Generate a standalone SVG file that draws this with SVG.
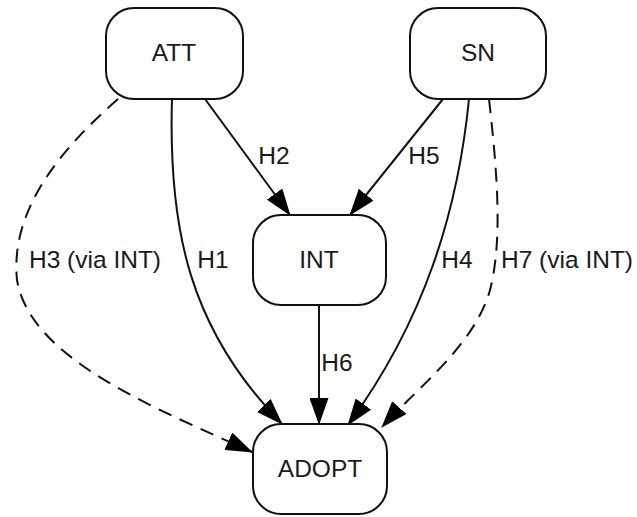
<svg xmlns="http://www.w3.org/2000/svg" width="637" height="517" viewBox="0 0 637 517">
<style>
.node rect{fill:#fff;stroke:#111;stroke-width:2}
.node text,.lbl{font-family:"Liberation Sans",Arial,sans-serif;font-size:24.5px;fill:#1a1a1a;text-anchor:middle}
.edge{fill:none;stroke:#111;stroke-width:2;marker-end:url(#arr)}
.dash{stroke-dasharray:14,9}
</style>
<defs>
<marker id="arr" markerUnits="userSpaceOnUse" markerWidth="27" markerHeight="19" refX="26" refY="9.5" orient="auto" viewBox="0 0 27 19">
<path d="M0,0 L27,9.5 L0,19 z" fill="#000"/>
</marker>
</defs>
<rect width="637" height="517" fill="#fff"/>
<g id="connectors">
<path class="edge" d="M172,99 C168,230 190,330 282,424"/>
<path class="edge" d="M205,99 L290,215"/>
<path class="edge dash" d="M118,99 C60,150 10,210 17,280 C30,360 160,410 252,452"/>
<path class="edge" d="M469,99 C458,210 425,320 348,425"/>
<path class="edge" d="M443,99 L350,215"/>
<path class="edge" d="M319,305 L319,424"/>
<path class="edge dash" d="M489,99 C497,170 503,240 490,290 C475,345 415,390 382,427"/>
<text class="lbl" x="213" y="268">H1</text>
<text class="lbl" x="274" y="164">H2</text>
<text class="lbl" x="95" y="268">H3 (via INT)</text>
<text class="lbl" x="457" y="268">H4</text>
<text class="lbl" x="424" y="164">H5</text>
<text class="lbl" x="337" y="371">H6</text>
<text class="lbl" x="567" y="268">H7 (via INT)</text>
</g>
<g id="ATT" class="node"><rect x="106" y="8" width="137" height="91" rx="28"/><text x="174" y="61">ATT</text></g>
<g id="SN" class="node"><rect x="410" y="8" width="136" height="91" rx="28"/><text x="478" y="61">SN</text></g>
<g id="INT" class="node"><rect x="253" y="215" width="133" height="90" rx="28"/><text x="319" y="268">INT</text></g>
<g id="ADOPT" class="node"><rect x="253" y="424" width="134" height="90" rx="28"/><text x="320" y="477">ADOPT</text></g>
</svg>
